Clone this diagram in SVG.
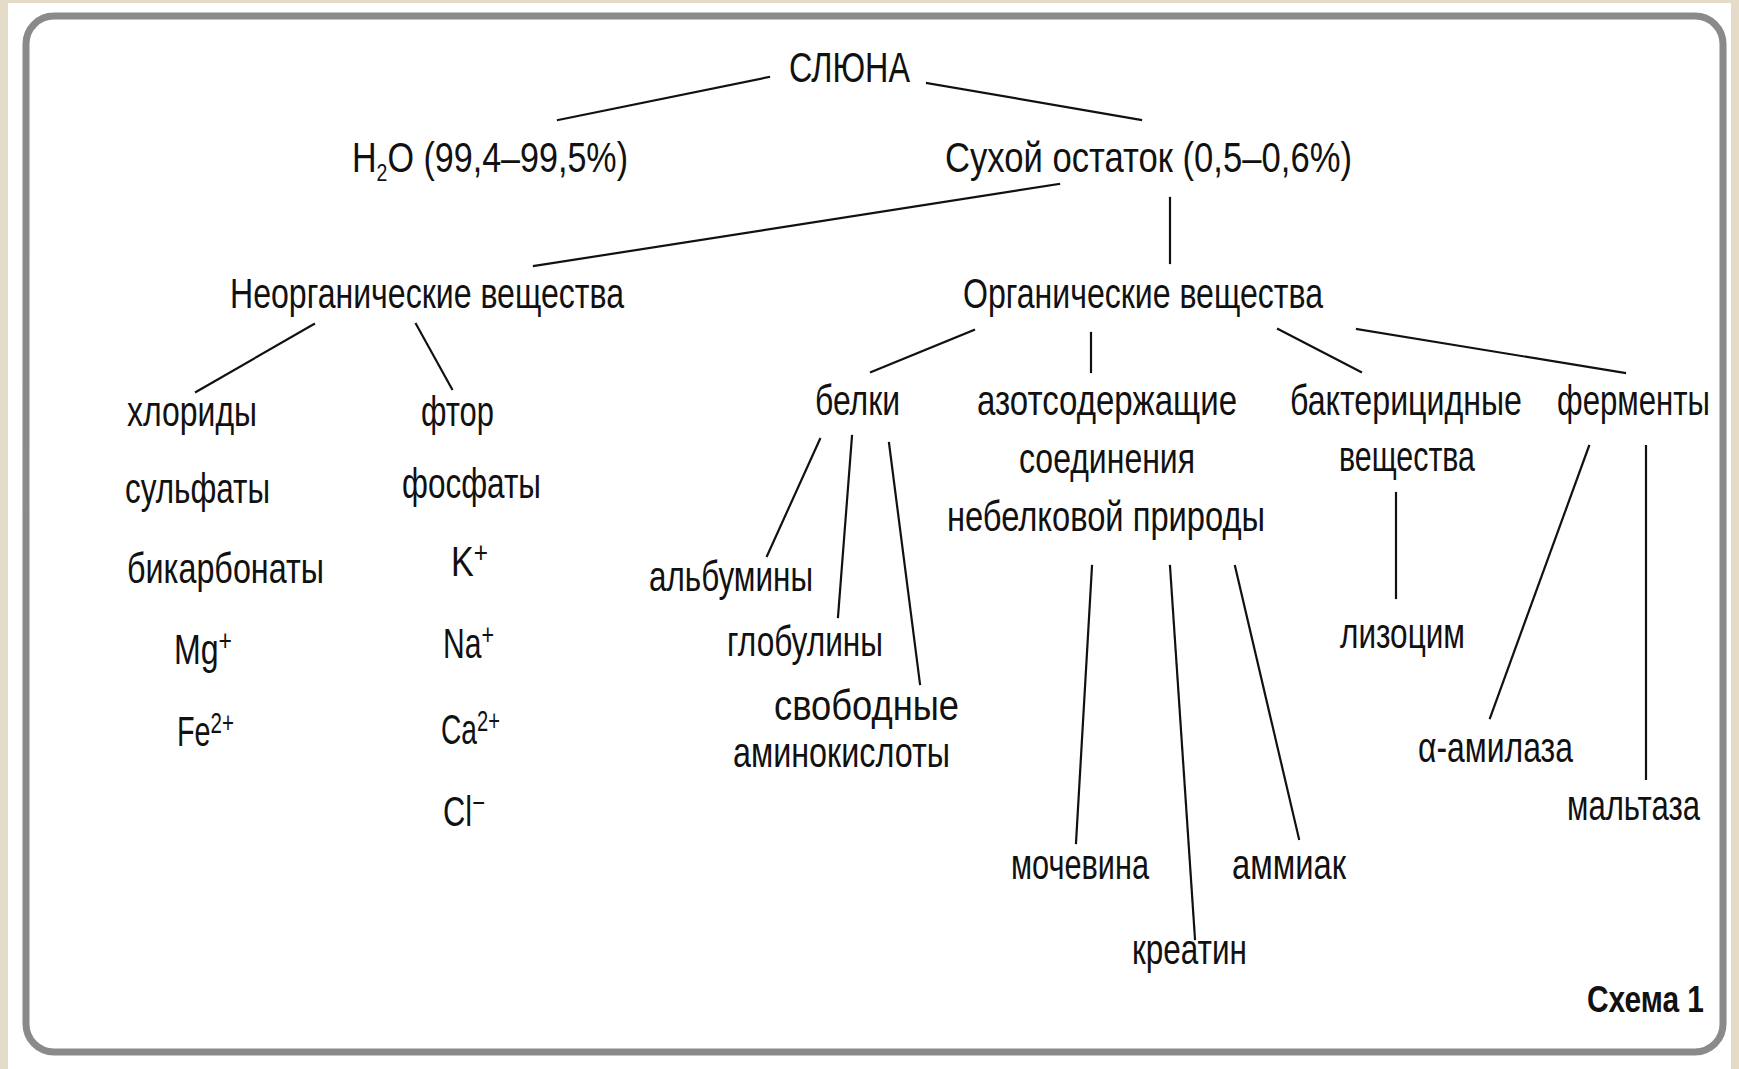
<svg xmlns="http://www.w3.org/2000/svg" width="1739" height="1069" viewBox="0 0 1739 1069">
<style>
.t{font-family:"Liberation Sans",Arial,sans-serif;font-size:42px;fill:#111;}
.b{font-weight:bold;font-size:36px;}
.sup{font-size:30px;}
.sub{font-size:24px;}
.c line{stroke:#111;stroke-width:2.2;stroke-linecap:square;}
</style>
<rect x="0" y="0" width="1739" height="1069" fill="#e4dbc9"/>
<rect x="8" y="3" width="1723" height="1066" fill="#ffffff"/>
<rect id="frame" x="26" y="16" width="1697" height="1036" rx="28" ry="28" fill="none" stroke="#8a8a8a" stroke-width="7"/>
<g class="c" id="connectors">
<line x1="769" y1="77" x2="558" y2="120"/>
<line x1="927" y1="83" x2="1141" y2="120"/>
<line x1="1059" y1="184" x2="534" y2="266"/>
<line x1="1170" y1="198" x2="1170" y2="263"/>
<line x1="314" y1="324" x2="196" y2="392"/>
<line x1="416" y1="324" x2="452" y2="389"/>
<line x1="974" y1="330" x2="871" y2="372"/>
<line x1="1091" y1="333" x2="1091" y2="372"/>
<line x1="1278" y1="329" x2="1361" y2="372"/>
<line x1="1357" y1="329" x2="1625" y2="373"/>
<line x1="820" y1="439" x2="767" y2="556"/>
<line x1="852" y1="436" x2="838" y2="617"/>
<line x1="889" y1="443" x2="920" y2="684"/>
<line x1="1092" y1="566" x2="1076" y2="843"/>
<line x1="1170" y1="566" x2="1195" y2="939"/>
<line x1="1235" y1="566" x2="1299" y2="839"/>
<line x1="1396" y1="493" x2="1396" y2="598"/>
<line x1="1589" y1="446" x2="1490" y2="718"/>
<line x1="1646" y1="446" x2="1646" y2="779"/>
</g>
<g id="n-slyuna"><text class="t" x="789" y="82" textLength="121" lengthAdjust="spacingAndGlyphs">СЛЮНА</text></g>
<g id="n-h2o"><text class="t" x="352" y="172" textLength="276" lengthAdjust="spacingAndGlyphs">H<tspan class="sub" dy="9">2</tspan><tspan dy="-9">O (99,4–99,5%)</tspan></text></g>
<g id="n-dry"><text class="t" x="945" y="172" textLength="407" lengthAdjust="spacingAndGlyphs">Сухой остаток (0,5–0,6%)</text></g>
<g id="n-inorg"><text class="t" x="230" y="308" textLength="394" lengthAdjust="spacingAndGlyphs">Неорганические вещества</text></g>
<g id="n-org"><text class="t" x="963" y="308" textLength="360" lengthAdjust="spacingAndGlyphs">Органические вещества</text></g>
<g id="n-chlor"><text class="t" x="127" y="426" textLength="130" lengthAdjust="spacingAndGlyphs">хлориды</text></g>
<g id="n-ftor"><text class="t" x="421" y="426" textLength="73" lengthAdjust="spacingAndGlyphs">фтор</text></g>
<g id="n-sulf"><text class="t" x="125" y="503" textLength="145" lengthAdjust="spacingAndGlyphs">сульфаты</text></g>
<g id="n-fosf"><text class="t" x="402" y="498" textLength="139" lengthAdjust="spacingAndGlyphs">фосфаты</text></g>
<g id="n-bikarb"><text class="t" x="127" y="583" textLength="197" lengthAdjust="spacingAndGlyphs">бикарбонаты</text></g>
<g id="n-k"><text class="t" x="451" y="576" textLength="37" lengthAdjust="spacingAndGlyphs">K<tspan class="sup" dy="-13">+</tspan></text></g>
<g id="n-mg"><text class="t" x="174" y="664" textLength="58" lengthAdjust="spacingAndGlyphs">Mg<tspan class="sup" dy="-13">+</tspan></text></g>
<g id="n-na"><text class="t" x="443" y="658" textLength="51" lengthAdjust="spacingAndGlyphs">Na<tspan class="sup" dy="-13">+</tspan></text></g>
<g id="n-fe"><text class="t" x="177" y="746" textLength="57" lengthAdjust="spacingAndGlyphs">Fe<tspan class="sup" dy="-13">2+</tspan></text></g>
<g id="n-ca"><text class="t" x="441" y="744" textLength="59" lengthAdjust="spacingAndGlyphs">Ca<tspan class="sup" dy="-13">2+</tspan></text></g>
<g id="n-cl"><text class="t" x="443" y="826" textLength="42" lengthAdjust="spacingAndGlyphs">Cl<tspan class="sup" dy="-13">−</tspan></text></g>
<g id="n-belki"><text class="t" x="815" y="415" textLength="85" lengthAdjust="spacingAndGlyphs">белки</text></g>
<g id="n-azot"><text class="t" x="977" y="415" textLength="260" lengthAdjust="spacingAndGlyphs">азотсодержащие</text><text class="t" x="1019" y="473" textLength="176" lengthAdjust="spacingAndGlyphs">соединения</text><text class="t" x="947" y="531" textLength="318" lengthAdjust="spacingAndGlyphs">небелковой природы</text></g>
<g id="n-bakt"><text class="t" x="1290" y="415" textLength="232" lengthAdjust="spacingAndGlyphs">бактерицидные</text><text class="t" x="1339" y="471" textLength="136" lengthAdjust="spacingAndGlyphs">вещества</text></g>
<g id="n-ferm"><text class="t" x="1557" y="415" textLength="153" lengthAdjust="spacingAndGlyphs">ферменты</text></g>
<g id="n-alb"><text class="t" x="649" y="591" textLength="164" lengthAdjust="spacingAndGlyphs">альбумины</text></g>
<g id="n-glob"><text class="t" x="727" y="656" textLength="156" lengthAdjust="spacingAndGlyphs">глобулины</text></g>
<g id="n-amino"><text class="t" x="774" y="720" textLength="185" lengthAdjust="spacingAndGlyphs">свободные</text><text class="t" x="733" y="767" textLength="217" lengthAdjust="spacingAndGlyphs">аминокислоты</text></g>
<g id="n-moch"><text class="t" x="1011" y="879" textLength="138" lengthAdjust="spacingAndGlyphs">мочевина</text></g>
<g id="n-amm"><text class="t" x="1232" y="879" textLength="114" lengthAdjust="spacingAndGlyphs">аммиак</text></g>
<g id="n-kreat"><text class="t" x="1132" y="964" textLength="115" lengthAdjust="spacingAndGlyphs">креатин</text></g>
<g id="n-lizo"><text class="t" x="1340" y="648" textLength="125" lengthAdjust="spacingAndGlyphs">лизоцим</text></g>
<g id="n-amil"><text class="t" x="1418" y="762" textLength="155" lengthAdjust="spacingAndGlyphs">α-амилаза</text></g>
<g id="n-malt"><text class="t" x="1567" y="820" textLength="133" lengthAdjust="spacingAndGlyphs">мальтаза</text></g>
<g id="n-scheme"><text class="t b" x="1587" y="1012" textLength="117" lengthAdjust="spacingAndGlyphs">Схема 1</text></g>
</svg>
